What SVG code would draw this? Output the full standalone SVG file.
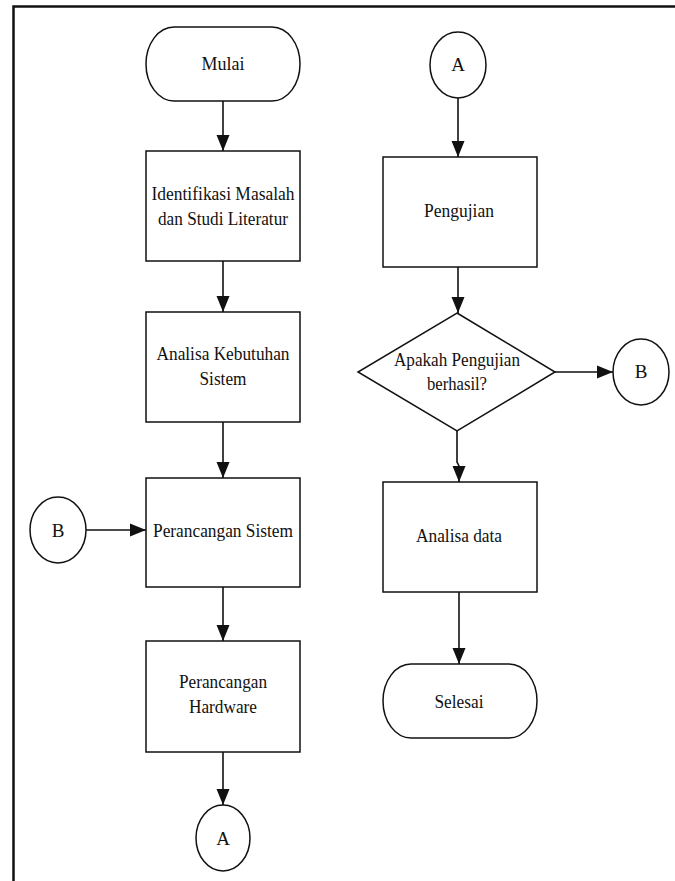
<svg xmlns="http://www.w3.org/2000/svg" width="675" height="881" viewBox="0 0 675 881">
<style>
.s{fill:#fff;stroke:#111;stroke-width:1.5}
.t{font-family:"Liberation Serif","Times New Roman",serif;font-size:19px;fill:#111;text-anchor:middle}
.c{fill:none;stroke:#111;stroke-width:1.6}
</style>
<defs>
<marker id="ah" markerUnits="userSpaceOnUse" markerWidth="16" markerHeight="14" refX="16" refY="7" orient="auto">
<path d="M0,0.5 L16,7 L0,13.5 z" fill="#111"/>
</marker>
</defs>
<rect x="0" y="0" width="675" height="881" fill="#fff"/>
<path d="M13.5,881 V6.5 H675" fill="none" stroke="#111" stroke-width="2.5"/>
<g id="connectors">
<line class="c" x1="223" y1="101" x2="223" y2="151" marker-end="url(#ah)"/>
<line class="c" x1="223" y1="261" x2="223" y2="312" marker-end="url(#ah)"/>
<line class="c" x1="223" y1="422" x2="223" y2="478" marker-end="url(#ah)"/>
<line class="c" x1="86" y1="530" x2="146" y2="530" marker-end="url(#ah)"/>
<line class="c" x1="223" y1="587" x2="223" y2="641" marker-end="url(#ah)"/>
<line class="c" x1="223" y1="752" x2="223" y2="805" marker-end="url(#ah)"/>
<line class="c" x1="458" y1="98" x2="458" y2="157" marker-end="url(#ah)"/>
<line class="c" x1="458" y1="267" x2="458" y2="313" marker-end="url(#ah)"/>
<line class="c" x1="555" y1="372" x2="613" y2="372" marker-end="url(#ah)"/>
<path class="c" d="M457,431 V462 L459,466 V482" marker-end="url(#ah)"/>
<line class="c" x1="459" y1="592" x2="459" y2="664" marker-end="url(#ah)"/>
</g>
<g id="mulai"><rect class="s" x="146" y="27" width="154" height="74" rx="28" ry="37"/><text class="t" x="223" y="70" textLength="43" lengthAdjust="spacingAndGlyphs">Mulai</text></g>
<g id="identifikasi"><rect class="s" x="146" y="151" width="154" height="110"/><text class="t" x="223" y="200" textLength="143" lengthAdjust="spacingAndGlyphs">Identifikasi Masalah</text><text class="t" x="223" y="225" textLength="130" lengthAdjust="spacingAndGlyphs">dan Studi Literatur</text></g>
<g id="analisa-kebutuhan"><rect class="s" x="146" y="312" width="154" height="110"/><text class="t" x="223" y="360" textLength="133" lengthAdjust="spacingAndGlyphs">Analisa Kebutuhan</text><text class="t" x="223" y="385" textLength="47" lengthAdjust="spacingAndGlyphs">Sistem</text></g>
<g id="b-left"><ellipse class="s" cx="58" cy="530" rx="28" ry="33"/><text class="t" x="58" y="537">B</text></g>
<g id="perancangan-sistem"><rect class="s" x="146" y="478" width="154" height="109"/><text class="t" x="223" y="537" textLength="140" lengthAdjust="spacingAndGlyphs">Perancangan Sistem</text></g>
<g id="perancangan-hardware"><rect class="s" x="146" y="641" width="154" height="111"/><text class="t" x="223" y="688" textLength="88" lengthAdjust="spacingAndGlyphs">Perancangan</text><text class="t" x="223" y="713" textLength="68" lengthAdjust="spacingAndGlyphs">Hardware</text></g>
<g id="a-bottom"><ellipse class="s" cx="223" cy="838" rx="27" ry="33"/><text class="t" x="223" y="845">A</text></g>
<g id="a-top"><ellipse class="s" cx="458" cy="65" rx="28" ry="33"/><text class="t" x="458" y="71">A</text></g>
<g id="pengujian"><rect class="s" x="383" y="157" width="154" height="110"/><text class="t" x="459" y="217" textLength="70" lengthAdjust="spacingAndGlyphs">Pengujian</text></g>
<g id="keputusan"><polygon class="s" points="457,313 555,372 457,431 358,372"/><text class="t" x="457" y="366" textLength="126" lengthAdjust="spacingAndGlyphs">Apakah Pengujian</text><text class="t" x="457" y="390" textLength="60" lengthAdjust="spacingAndGlyphs">berhasil?</text></g>
<g id="b-right"><ellipse class="s" cx="641" cy="372" rx="28" ry="33"/><text class="t" x="641" y="378">B</text></g>
<g id="analisa-data"><rect class="s" x="383" y="482" width="154" height="110"/><text class="t" x="459" y="542" textLength="86" lengthAdjust="spacingAndGlyphs">Analisa data</text></g>
<g id="selesai"><rect class="s" x="383" y="664" width="154" height="74" rx="28" ry="37"/><text class="t" x="459" y="708" textLength="49" lengthAdjust="spacingAndGlyphs">Selesai</text></g>
</svg>
